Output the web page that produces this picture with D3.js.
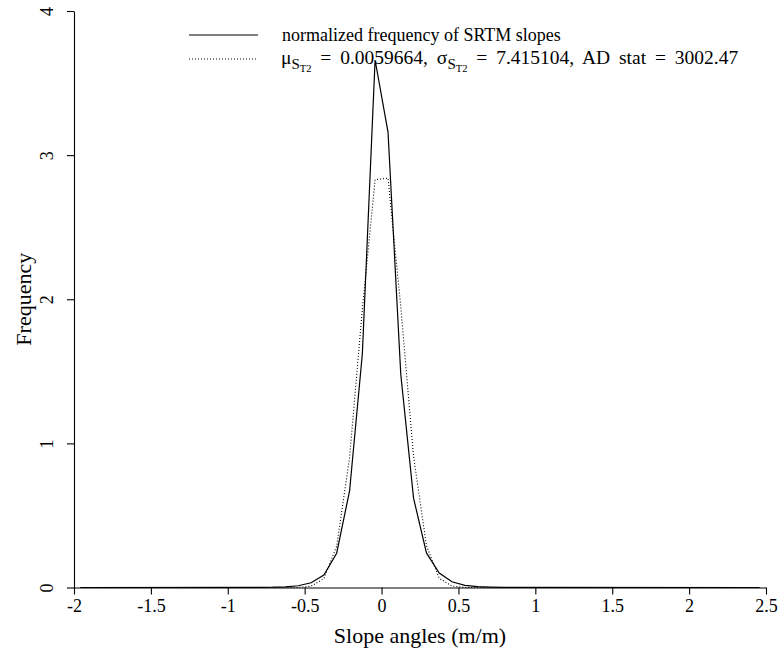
<!DOCTYPE html>
<html>
<head>
<meta charset="utf-8">
<script src="https://cdn.jsdelivr.net/npm/d3@7"></script>
<style>
  body { margin: 0; background: #fff; }
  svg { font-family: "Liberation Serif", "Times New Roman", serif; }
</style>
</head>
<body>
<script>

// bin midpoints (m/m) and the two curves
const binMid = [-1.958, -0.875, -0.792, -0.708, -0.625, -0.542, -0.458, -0.375, -0.292, -0.208, -0.125, -0.042,
                0.042, 0.125, 0.208, 0.292, 0.375, 0.458, 0.542, 0.625, 0.708, 0.792, 0.875, 2.458];
const slopeFreq = [0, 0.0005, 0.001, 0.002, 0.005, 0.012, 0.033, 0.087, 0.238, 0.67, 1.62, 3.66,
                   3.16, 1.48, 0.62, 0.24, 0.10, 0.04, 0.015, 0.006, 0.003, 0.001, 0.0005, 0];
const normalFit = [0, 0, 0, 0, 0, 0.0004, 0.009, 0.062, 0.286, 0.90, 1.93, 2.83,
                   2.84, 1.95, 0.91, 0.29, 0.064, 0.01, 0.0005, 0, 0, 0, 0, 0];

const xTicks = [-2, -1.5, -1, -0.5, 0, 0.5, 1, 1.5, 2, 2.5];
const yTicks = [0, 1, 2, 3, 4];

const width = 781, height = 654;

const svg = d3.select('body').append('svg')
  .attr('width', width)
  .attr('height', height);

const x = d3.scaleLinear().domain([-2, 2.5]).range([74, 766]);
const y = d3.scaleLinear().domain([0, 4]).range([587.5, 11]);

// x axis (plain hyphen for negatives, like R)
const gx = svg.append('g')
  .attr('transform', `translate(0,${y(0)})`)
  .call(d3.axisBottom(x).tickValues(xTicks).tickSize(7).tickSizeOuter(0).tickPadding(5)
        .tickFormat(d => String(d)));
gx.attr('font-family', null).attr('font-size', null);
gx.selectAll('path, line').attr('stroke', '#000').attr('stroke-width', 1.1);
gx.selectAll('text').attr('font-size', 18).attr('fill', '#000');

// y axis, labels turned like R does
const gy = svg.append('g')
  .attr('transform', `translate(${x(-2)},0)`)
  .call(d3.axisLeft(y).tickValues(yTicks).tickSize(7).tickSizeOuter(0)
        .tickFormat(d => String(d)));
gy.attr('font-family', null).attr('font-size', null);
gy.selectAll('path, line').attr('stroke', '#000').attr('stroke-width', 1.1);
gy.selectAll('text')
  .attr('x', null).attr('dy', null)
  .attr('text-anchor', 'middle')
  .attr('transform', 'translate(-21,0) rotate(-90)')
  .attr('font-size', 18).attr('fill', '#000');

// axis titles
svg.append('text')
  .attr('x', (x(-2) + x(2.5)) / 2).attr('y', 643)
  .attr('text-anchor', 'middle').attr('font-size', 22)
  .text('Slope angles (m/m)');

svg.append('text')
  .attr('transform', `translate(31,${(y(0) + y(4)) / 2}) rotate(-90)`)
  .attr('text-anchor', 'middle').attr('font-size', 22)
  .text('Frequency');

// curves
const line = d3.line()
  .x((d, i) => x(binMid[i]))
  .y(d => y(d));

svg.append('path')
  .datum(normalFit)
  .attr('d', line)
  .attr('fill', 'none').attr('stroke', '#000')
  .attr('stroke-width', 1.1).attr('stroke-dasharray', '1,2');

svg.append('path')
  .datum(slopeFreq)
  .attr('d', line)
  .attr('fill', 'none').attr('stroke', '#000')
  .attr('stroke-width', 1.2);

// legend
const leg = svg.append('g');
leg.append('line').attr('x1', 189).attr('x2', 258).attr('y1', 35).attr('y2', 35)
  .attr('stroke', '#000').attr('stroke-width', 1.1);
leg.append('line').attr('x1', 189).attr('x2', 258).attr('y1', 59).attr('y2', 59)
  .attr('stroke', '#000').attr('stroke-width', 1.1).attr('stroke-dasharray', '1,2');

leg.append('text').attr('x', 282).attr('y', 41).attr('font-size', 18)
  .text('normalized frequency of SRTM slopes');

const t2 = leg.append('text').attr('x', 281).attr('y', 64)
  .attr('font-size', 19.5).attr('word-spacing', 4);
function symbolSub(sym) {
  t2.append('tspan').text(sym);
  t2.append('tspan').attr('dy', 5).attr('font-size', 15).text('S');
  t2.append('tspan').attr('dy', 3).attr('font-size', 10.5).text('T2');
  t2.append('tspan').attr('dy', -8).text(' ');
}
symbolSub('\u03bc');
t2.append('tspan').text('= 0.0059664, ');
symbolSub('\u03c3');
t2.append('tspan').text('= 7.415104, AD stat = 3002.47');

</script>
</body>
</html>
